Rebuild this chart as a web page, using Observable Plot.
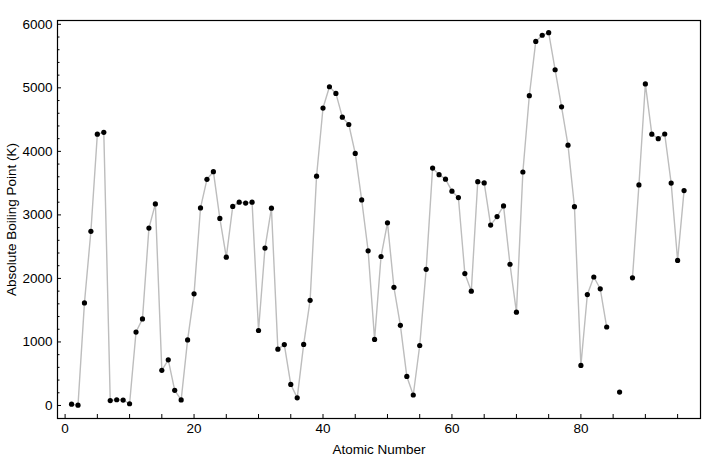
<!DOCTYPE html>
<html><head><meta charset="utf-8">
<script src="https://cdn.jsdelivr.net/npm/d3@7"></script>
<script src="https://cdn.jsdelivr.net/npm/@observablehq/plot@0.6"></script>
<style>body{margin:0;background:#fff}</style>
</head><body><div id="chart"></div>
<script>
const atomicNumbers = d3.range(1, 97);
const boilingPoints = [
  20, 4, 1615, 2742, 4270, 4300, 77, 90, 85, 27,
  1156, 1363, 2792, 3173, 553, 718, 239, 87, 1032, 1757,
  3109, 3560, 3680, 2944, 2334, 3134, 3200, 3186, 3200, 1180,
  2477, 3106, 887, 958, 332, 120, 961, 1655, 3609, 4682,
  5017, 4912, 4538, 4423, 3968, 3236, 2435, 1040, 2345, 2875,
  1860, 1261, 457, 165, 944, 2143, 3737, 3633, 3563, 3373,
  3273, 2076, 1800, 3523, 3503, 2840, 2973, 3141, 2223, 1469,
  3675, 4876, 5731, 5828, 5869, 5285, 4701, 4098, 3129, 630,
  1746, 2022, 1837, 1235, null, 211, null, 2010, 3471, 5061,
  4270, 4200, 4273, 3501, 2284, 3383
];
const xMajor = [0, 20, 40, 60, 80];
const xMinor = d3.range(0, 100, 5);
const yMajor = [0, 1000, 2000, 3000, 4000, 5000, 6000];
const yMinor = d3.range(0, 6001, 200).filter(v => v % 1000 !== 0);
const xLabel = "Atomic Number";
const yLabel = "Absolute Boiling Point (K)";

const data = atomicNumbers.map((n, i) => ({n, bp: boilingPoints[i]}));
const font = "'Liberation Sans', Arial, Helvetica, sans-serif";
const fmt = d3.format("d");

const W = 720, H = 456, mL = 57, mR = 20, mT = 20, mB = 38;
const fw = W - mL - mR, fh = H - mT - mB;

const chart = Plot.plot({
  width: W, height: H,
  marginLeft: mL, marginRight: mR, marginTop: mT, marginBottom: mB,
  style: {fontFamily: font, fontSize: "13.5px", color: "#000", background: "#fff"},
  x: {domain: [-1.18, 98.55], label: null},
  y: {domain: [-205, 6060], label: null},
  marks: [
    Plot.line(data, {x: "n", y: "bp", stroke: "#bdbdbd", strokeWidth: 1.4, defined: d => d.bp != null}),
    Plot.dot(data.filter(d => d.bp != null), {x: "n", y: "bp", r: 2.6, fill: "#000", stroke: "none"}),
    Plot.tickX(xMinor, {x: d => d, stroke: "#000", strokeWidth: 1, insetTop: fh - 4}),
    Plot.tickY(yMinor, {y: d => d, stroke: "#000", strokeWidth: 1, insetRight: fw - 2.5}),
    Plot.tickY(yMajor, {y: d => d, stroke: "#000", strokeWidth: 1, insetRight: fw - 4}),
    Plot.axisX({ticks: xMajor, tickSize: 0, tickPadding: 5, tickFormat: fmt, fontSize: 13.5}),
    Plot.axisY({ticks: yMajor, tickSize: 0, tickPadding: 5, tickFormat: fmt, fontSize: 13.5}),
    Plot.frame({stroke: "#000", strokeWidth: 1.2}),
    Plot.text([xLabel], {frameAnchor: "bottom", dy: 35, fontSize: 13.5, lineAnchor: "bottom"}),
    Plot.text([yLabel], {frameAnchor: "left", dx: -46, rotate: -90, textAnchor: "middle", fontSize: 13.5})
  ]
});
document.getElementById("chart").append(chart);
</script></body></html>
